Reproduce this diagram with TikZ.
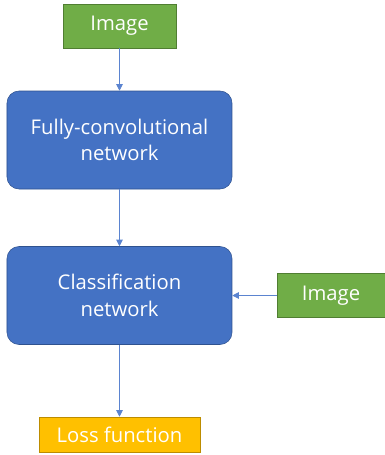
\documentclass[tikz,border=0pt]{standalone}
\usepackage{fontspec}
\setmainfont{Open Sans}
\usepackage{xcolor}
\usepackage{tikz}
\usetikzlibrary{arrows.meta,positioning}

\definecolor{netblue}{HTML}{4472C4}
\definecolor{netblueline}{HTML}{2F528F}
\definecolor{imggreen}{HTML}{70AD47}
\definecolor{imggreenline}{HTML}{507E32}
\definecolor{lossyellow}{HTML}{FFC000}
\definecolor{lossyellowline}{HTML}{BC8C00}
\definecolor{flowline}{HTML}{5B84D0}

\tikzset{
  inbox/.style={draw=imggreenline, fill=imggreen, text=white, inner sep=0pt,
    minimum width=84.75pt, minimum height=33pt},
  netbox/.style={draw=netblueline, fill=netblue, text=white, rounded corners=9pt,
    inner sep=0pt, minimum width=168.75pt, minimum height=73.5pt, align=center},
  lossbox/.style={draw=lossyellowline, fill=lossyellow, text=white, inner sep=0pt,
    minimum width=120.75pt, minimum height=26.25pt},
  flow/.style={draw=flowline, line width=0.7pt, -{Triangle[length=5pt,width=5pt]}}
}

\begin{document}
\begin{tikzpicture}[x=0.75pt, y=-0.75pt, font=\fontsize{15.2}{20}\selectfont]
    \useasboundingbox (0,0) rectangle (385,455);

    % Boxes
    \node[inbox] (img) at (119.5,26) {Image};
    \node[netbox] (fcn) at (119.5,140) {Fully-convolutional\\network};
    \node[netbox] (cls) at (119.5,295.5) {Classification\\network};
    \node[inbox, minimum width=81pt] (img2) at (331,295.5) {Image};
    \node[lossbox] (loss) at (119.5,434.5) {Loss function};

    % Flow
    \draw[flow] (img) -- (fcn);
    \draw[flow] (fcn) -- (cls);
    \draw[flow] (img2) -- (cls);
    \draw[flow] (cls) -- (loss);
\end{tikzpicture}
\end{document}
